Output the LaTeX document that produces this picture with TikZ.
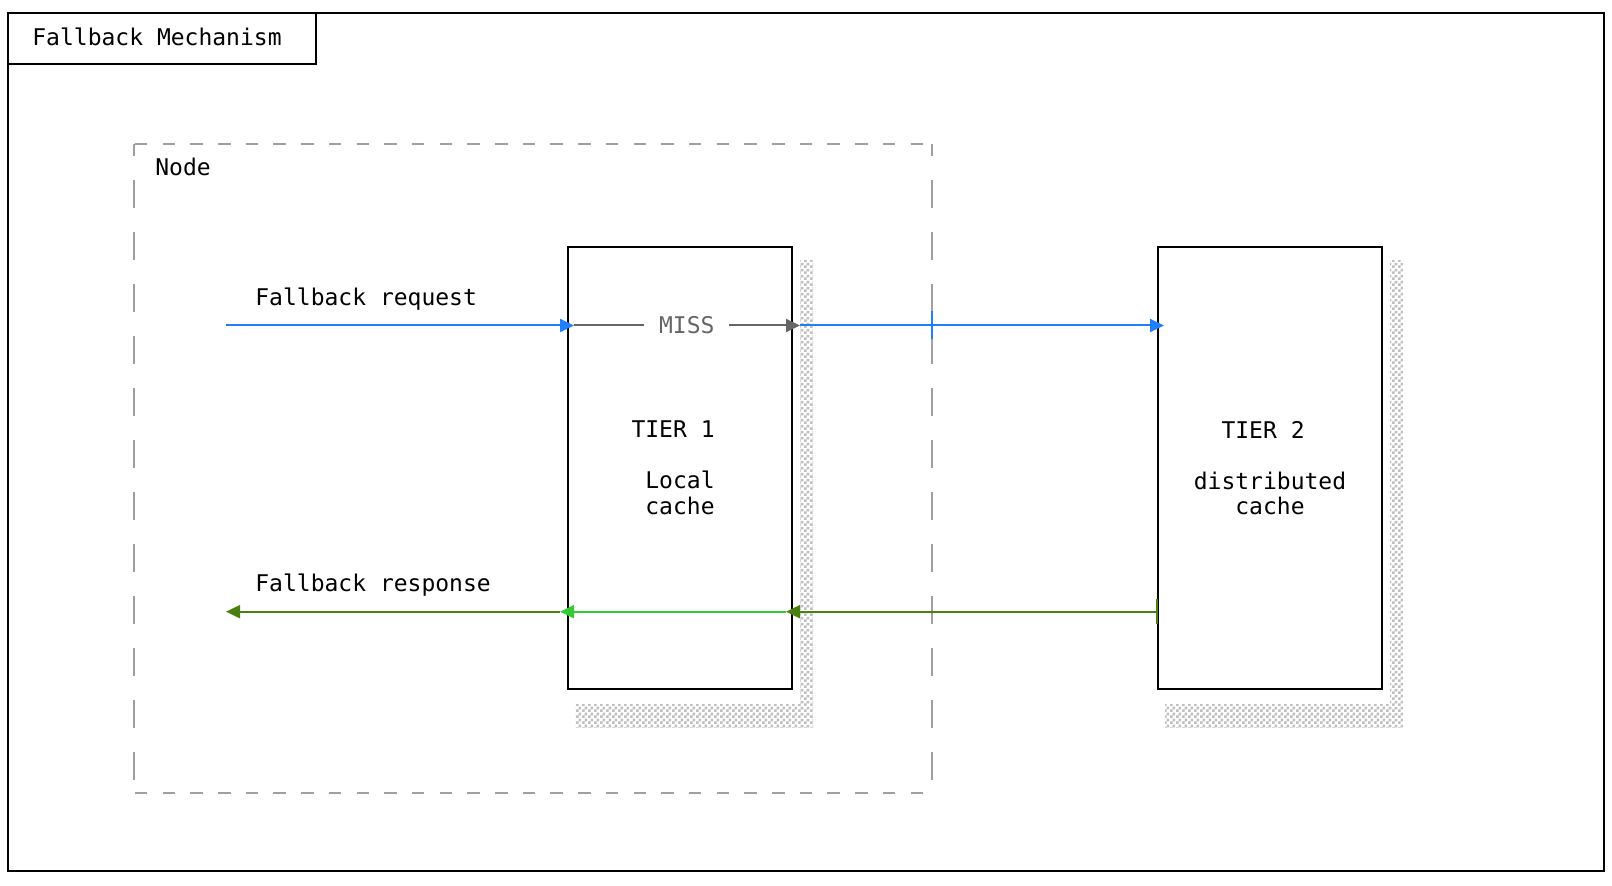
\documentclass[tikz,border=0pt]{standalone}
\usepackage{fontspec}
\setmonofont{DejaVu Sans Mono}
\usetikzlibrary{arrows.meta,positioning,patterns}
\definecolor{reqblue}{HTML}{1F7FFF}
\definecolor{respgreen}{HTML}{4A7F12}
\definecolor{hitgreen}{HTML}{33CC33}
\definecolor{missgray}{HTML}{666666}
\definecolor{boxgray}{HTML}{A0A0A0}
\pgfdeclarepatternformonly{checker}{\pgfpointorigin}{\pgfpoint{3pt}{3pt}}{\pgfpoint{3pt}{3pt}}{%
  \pgfpathrectangle{\pgfpointorigin}{\pgfpoint{1.5pt}{1.5pt}}%
  \pgfpathrectangle{\pgfpoint{1.5pt}{1.5pt}}{\pgfpoint{1.5pt}{1.5pt}}%
  \pgfusepath{fill}}

\begin{document}
\begin{tikzpicture}[x=0.5pt,y=-0.5pt,>={Triangle[length=7pt,width=6.5pt]},
    every node/.style={font=\ttfamily\fontsize{11.5}{12.75}\selectfont},
    frame/.style={draw,line width=1pt,inner sep=0pt},
    label text/.style={anchor=base west,inner sep=0pt},
    tier node/.style={draw,line width=1pt,fill=white,minimum width=112pt,minimum height=221pt,align=center,inner sep=0pt},
    shade/.style={pattern=checker,pattern color=gray!50},
    hdash/.style={draw=boxgray,line width=1pt,dash pattern=on 6.25pt off 7.6pt,dash phase=13.2pt},
    vdash/.style={draw=boxgray,line width=1pt,dash pattern=on 14pt off 12pt,dash phase=8pt},
    flow/.style={->,line width=1pt,shorten >=-3.5pt},
    req/.style={flow,draw=reqblue},
    resp/.style={flow,draw=respgreen},
    hit/.style={flow,draw=hitgreen},
    miss/.style={flow,draw=missgray}]
  \useasboundingbox (0,0) rectangle (1612,886);

  % frame and title
  \node[frame,minimum width=798pt,minimum height=429pt] (frame) at (806,442) {};
  \node[frame,anchor=north west,minimum width=154pt,minimum height=25.5pt] (title) at (frame.north west) {};
  \node[label text] (titletext) at (32,45.5) {Fallback Mechanism};

  % dashed node box
  \node[minimum width=399pt,minimum height=324.5pt] (nodebox) at (533,468.5) {};
  \draw[hdash] (nodebox.north west) -- (nodebox.north east);
  \draw[hdash] (nodebox.south west) -- (nodebox.south east);
  \draw[vdash] (nodebox.north west) -- (nodebox.south west);
  \draw[vdash] (nodebox.north east) -- (nodebox.south east);
  \node[label text] (nodelabel) at (155,176) {Node};

  % tiers
  \node[tier node] (t1) at (680,468) {TIER 1\phantom{x}\\[12.75pt]Local\\cache};
  \node[tier node] (t2) [right=182pt of t1] {TIER 2\phantom{x}\\[12.75pt]distributed\\cache};
  \fill[shade] ([xshift=3.5pt,yshift=-7.5pt]t1.north east) rectangle ([xshift=10pt,yshift=-19pt]t1.south east);
  \fill[shade] ([xshift=4pt,yshift=-7.5pt]t1.south west) rectangle ([xshift=3.5pt,yshift=-19pt]t1.south east);
  \fill[shade] ([xshift=3.5pt,yshift=-7.5pt]t2.north east) rectangle ([xshift=10pt,yshift=-19pt]t2.south east);
  \fill[shade] ([xshift=4pt,yshift=-7.5pt]t2.south west) rectangle ([xshift=3.5pt,yshift=-19pt]t2.south east);

  % request
  \coordinate (reqstart) at (226,325.5);
  \node[label text] (reqlabel) at (255,305.7) {Fallback request};
  \draw[miss,shorten <=3.5pt] (reqstart -| t1.west) -- node[pos=0.53,fill=white,text=missgray,inner xsep=7.3pt,inner ysep=1pt] (misslabel) {MISS} (reqstart -| t1.east);
  \draw[req] (reqstart) -- (reqstart -| t1.west);
  \draw[req,shorten <=3.5pt] (reqstart -| t1.east) -- (reqstart -| t2.west);
  \draw[reqblue,line width=1pt] ([yshift=7pt]reqstart -| nodebox.east) -- ([yshift=-7pt]reqstart -| nodebox.east);

  % response
  \coordinate (respend) at (226,611.7);
  \node[label text] (resplabel) at (255,591.7) {Fallback response};
  \draw[respgreen,line width=1pt] ([yshift=6.5pt]respend -| t2.west) -- ([yshift=-6pt]respend -| t2.west);
  \draw[resp] (respend -| t2.west) -- (respend -| t1.east);
  \draw[hit,shorten <=3.5pt] (respend -| t1.east) -- (respend -| t1.west);
  \draw[resp,shorten <=3.5pt,shorten >=0pt] (respend -| t1.west) -- (respend);
\end{tikzpicture}
\end{document}
